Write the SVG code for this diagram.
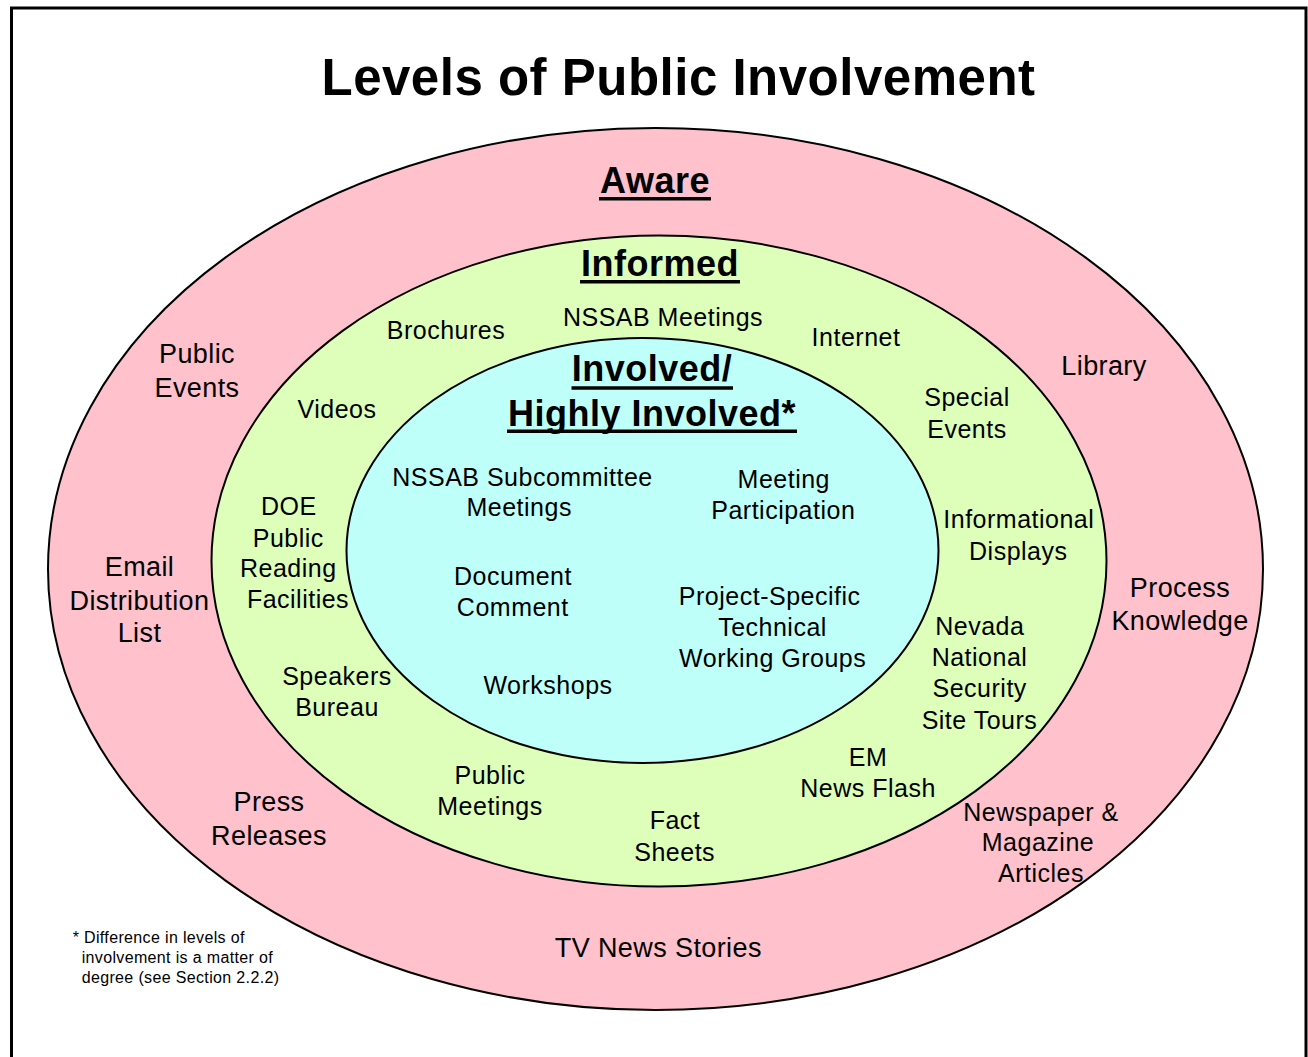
<svg xmlns="http://www.w3.org/2000/svg" width="1308" height="1057" viewBox="0 0 1308 1057">
<style>
text{font-family:"Liberation Sans",Arial,sans-serif;fill:#000;text-anchor:middle}
.t{font-size:25px;letter-spacing:0.5px}
.o{font-size:27px;letter-spacing:0.4px}
.h{font-size:36px;font-weight:bold;letter-spacing:0.5px}
.ul{stroke:#000;stroke-width:3.5}
.ring{stroke:#000;stroke-width:2}
.fn{font-size:16px;letter-spacing:0.35px;text-anchor:start}
</style>
<rect x="0" y="0" width="1308" height="1057" fill="#fff"/>
<rect x="11.5" y="8" width="1294.5" height="1100" fill="none" stroke="#000" stroke-width="3"/>
<g id="title">
<text x="678.5" y="95" style="font-size:51px;font-weight:bold;letter-spacing:0.5px">Levels of Public Involvement</text>
</g>
<g id="ring-aware">
<ellipse class="ring" cx="655.5" cy="569" rx="607.5" ry="441" fill="#FFC1CC"/>
<text class="h" x="655" y="193">Aware</text>
<line class="ul" x1="599" y1="198.8" x2="711" y2="198.8"/>
</g>
<g id="ring-informed">
<ellipse class="ring" cx="659" cy="561" rx="447.5" ry="325.5" fill="#DDFFB9"/>
<text class="h" x="660" y="276">Informed</text>
<line class="ul" x1="580" y1="281.7" x2="740" y2="281.7"/>
</g>
<g id="ring-involved">
<ellipse class="ring" cx="642.5" cy="550.5" rx="296" ry="212.5" fill="#BFFFFA"/>
<text class="h" x="652" y="380.5">Involved/</text>
<line class="ul" x1="571.5" y1="388" x2="733" y2="388"/>
<text class="h" x="652" y="426">Highly Involved*</text>
<line class="ul" x1="507" y1="431.2" x2="797" y2="431.2"/>
</g>
<g id="connectors"></g>
<g id="aware-public-events"><text class="o" x="197" y="363">Public</text><text class="o" x="197" y="397">Events</text></g>
<g id="aware-email"><text class="o" x="139.5" y="575.7">Email</text><text class="o" x="139.5" y="610">Distribution</text><text class="o" x="139.5" y="642.3">List</text></g>
<g id="aware-library"><text class="o" x="1104" y="374.5">Library</text></g>
<g id="aware-process"><text class="o" x="1180" y="596.7">Process</text><text class="o" x="1180" y="630">Knowledge</text></g>
<g id="aware-press"><text class="o" x="269" y="811">Press</text><text class="o" x="269" y="845">Releases</text></g>
<g id="aware-newspaper"><text class="t" x="1041" y="820.7">Newspaper &amp;</text><text class="t" x="1038" y="850.7">Magazine</text><text class="t" x="1041" y="881.7">Articles</text></g>
<g id="aware-tv"><text class="o" x="658.3" y="956.7">TV News Stories</text></g>
<g id="informed-brochures"><text class="t" x="446" y="339">Brochures</text></g>
<g id="informed-nssab"><text class="t" x="663" y="325.7">NSSAB Meetings</text></g>
<g id="informed-internet"><text class="t" x="856" y="346">Internet</text></g>
<g id="informed-videos"><text class="t" x="337" y="418">Videos</text></g>
<g id="informed-special"><text class="t" x="967" y="406">Special</text><text class="t" x="967" y="438">Events</text></g>
<g id="informed-doe"><text class="t" x="288.8" y="515">DOE</text><text class="t" x="288.3" y="546.7">Public</text><text class="t" x="288.3" y="577.3">Reading</text><text class="t" x="298" y="608.3">Facilities</text></g>
<g id="informed-displays"><text class="t" x="1018.8" y="528.3">Informational</text><text class="t" x="1018.3" y="560">Displays</text></g>
<g id="informed-speakers"><text class="t" x="337" y="685">Speakers</text><text class="t" x="337" y="716">Bureau</text></g>
<g id="informed-tours"><text class="t" x="979.8" y="635">Nevada</text><text class="t" x="979.5" y="666">National</text><text class="t" x="979.7" y="696.7">Security</text><text class="t" x="979.5" y="729">Site Tours</text></g>
<g id="informed-em"><text class="t" x="868" y="766">EM</text><text class="t" x="868" y="797">News Flash</text></g>
<g id="informed-public-meetings"><text class="t" x="490" y="784">Public</text><text class="t" x="490" y="815">Meetings</text></g>
<g id="informed-fact"><text class="t" x="675" y="829.3">Fact</text><text class="t" x="674.7" y="860.7">Sheets</text></g>
<g id="involved-subcommittee"><text class="t" x="522.5" y="485.7">NSSAB Subcommittee</text><text class="t" x="519.2" y="516">Meetings</text></g>
<g id="involved-participation"><text class="t" x="783.8" y="488.3">Meeting</text><text class="t" x="783.3" y="519">Participation</text></g>
<g id="involved-document"><text class="t" x="513" y="585">Document</text><text class="t" x="512.8" y="615.7">Comment</text></g>
<g id="involved-groups"><text class="t" x="769.7" y="605">Project-Specific</text><text class="t" x="772.5" y="636">Technical</text><text class="t" x="772.7" y="667.3">Working Groups</text></g>
<g id="involved-workshops"><text class="t" x="548" y="694.3">Workshops</text></g>
<g id="footnote">
<text class="fn" x="72.7" y="942.7">* Difference in levels of</text>
<text class="fn" x="81.7" y="962.7">involvement is a matter of</text>
<text class="fn" x="81.7" y="983.3">degree (see Section 2.2.2)</text>
</g>
</svg>
